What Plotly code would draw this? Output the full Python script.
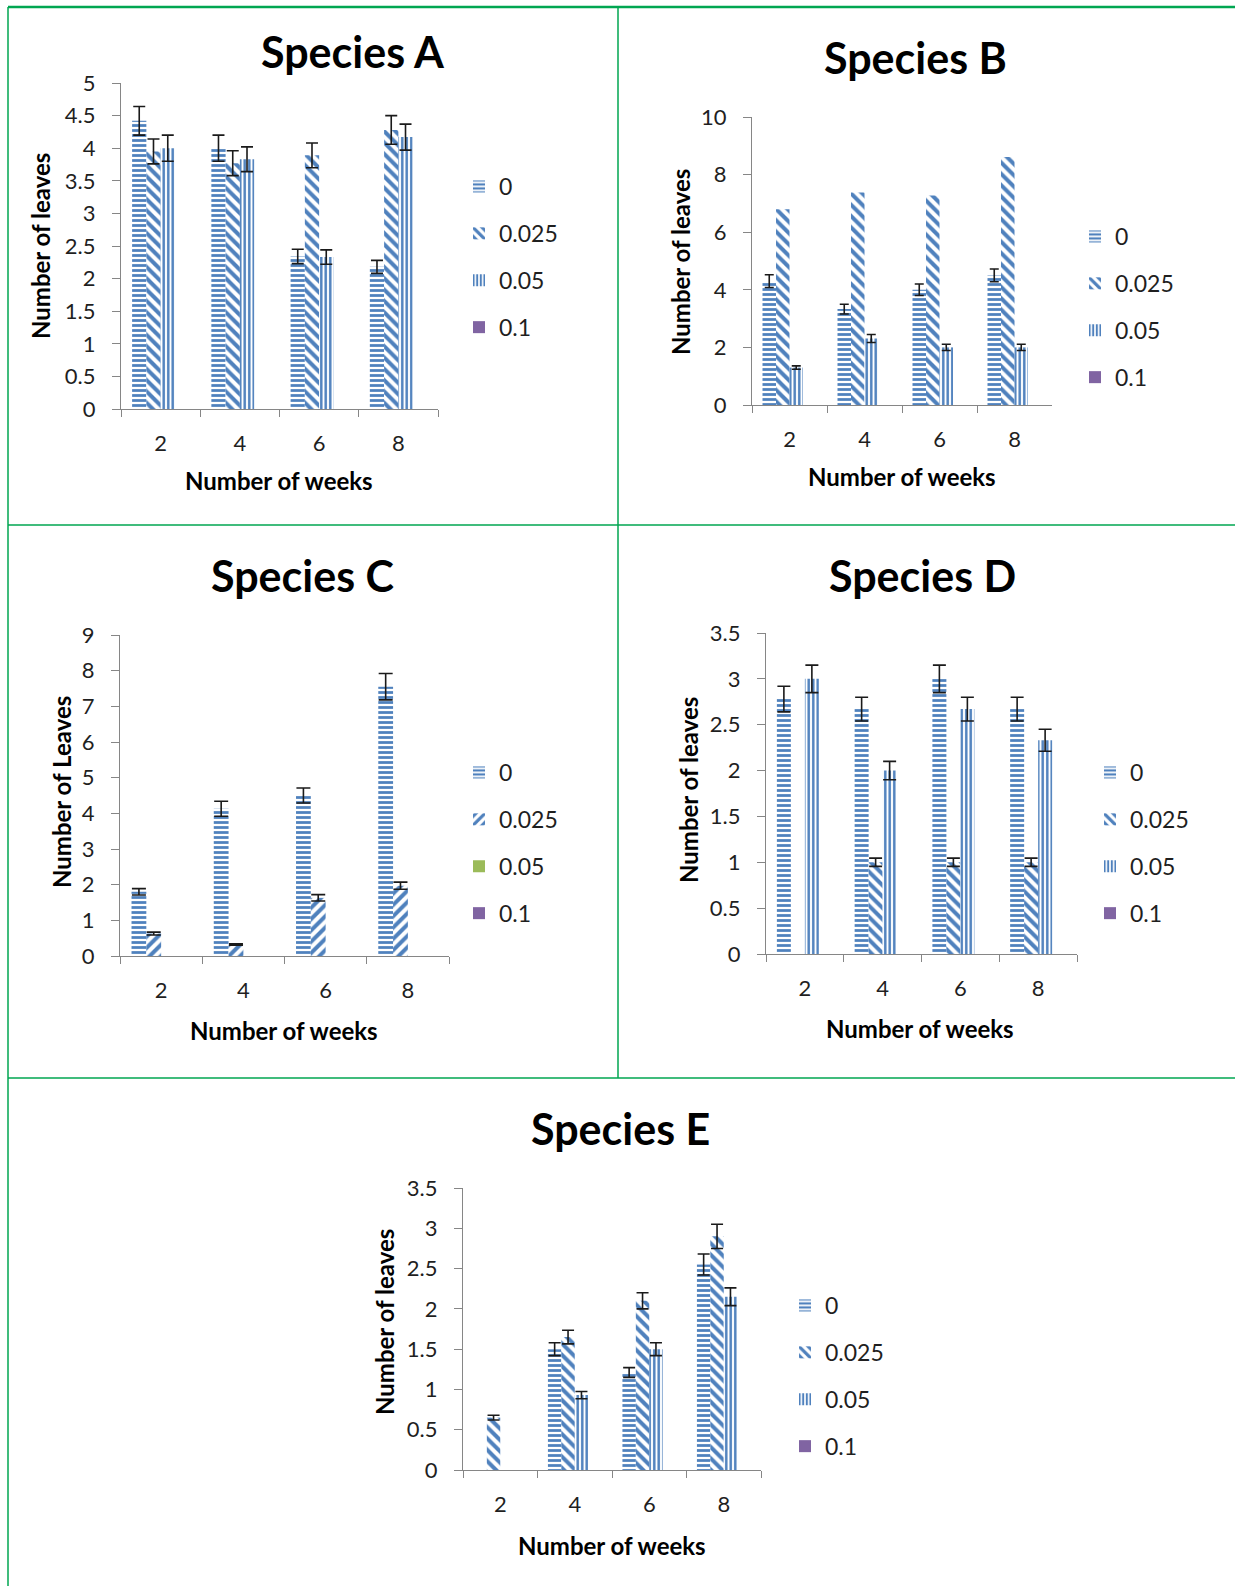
import plotly.graph_objects as go

# ---------------- data ----------------
weeks = ["2", "4", "6", "8"]
conc_labels = ["0", "0.025", "0.05", "0.1"]

# Species A
a_0 = [4.42, 4.00, 2.34, 2.18]
a_0_err = [0.22, 0.20, 0.11, 0.10]
a_025 = [3.95, 3.77, 3.89, 4.28]
a_025_err = [0.19, 0.19, 0.19, 0.22]
a_05 = [4.00, 3.83, 2.33, 4.17]
a_05_err = [0.20, 0.19, 0.11, 0.20]
a_1 = [None, None, None, None]

# Species B
b_0 = [4.30, 3.33, 4.00, 4.50]
b_0_err = [0.22, 0.17, 0.20, 0.22]
b_025 = [6.80, 7.38, 7.27, 8.61]
b_025_err = None
b_05 = [1.30, 2.31, 2.00, 2.00]
b_05_err = [0.06, 0.14, 0.11, 0.11]
b_1 = [None, None, None, None]

# Species C
c_0 = [1.80, 4.13, 4.50, 7.55]
c_0_err = [0.09, 0.21, 0.21, 0.37]
c_025 = [0.63, 0.32, 1.63, 1.97]
c_025_err = [0.04, 0.02, 0.09, 0.10]
c_05 = [None, None, None, None]
c_1 = [None, None, None, None]

# Species D
d_0 = [2.78, 2.67, 3.00, 2.67]
d_0_err = [0.14, 0.13, 0.15, 0.13]
d_025 = [None, 1.00, 1.00, 1.00]
d_025_err = [0.0, 0.045, 0.045, 0.045]
d_05 = [3.00, 2.00, 2.67, 2.33]
d_05_err = [0.15, 0.10, 0.13, 0.12]
d_1 = [None, None, None, None]

# Species E
e_0 = [None, 1.50, 1.21, 2.55]
e_0_err = [0.0, 0.08, 0.06, 0.13]
e_025 = [0.65, 1.65, 2.10, 2.90]
e_025_err = [0.03, 0.085, 0.10, 0.15]
e_05 = [None, 0.93, 1.50, 2.15]
e_05_err = [0.0, 0.045, 0.08, 0.11]
e_1 = [None, None, None, None]

# ---------------- styles ----------------
W, H = 1235, 1586
BLUE = "#4F81BD"
PURPLE = "#8064A2"
GREEN = "#9BBB59"
AXIS = "#868686"
TXT = "#1f1f1f"
FONT = "Lato"

HORIZ = dict(shape="-", size=5, solidity=0.55)
BACK = dict(shape="\\", size=8, solidity=0.5)
FWD = dict(shape="/", size=8, solidity=0.5)
VERT = dict(shape="|", size=4.5, solidity=0.55)


def px(x):
    return x / W


def py(y):
    return 1 - y / H


panels = [
    dict(title="Species A", ytitle="Number of leaves",
         box=(121, 438, 83, 409), yrange=[0, 5], dtick=0.5,
         title_xy=(353, 51), ytitle_xy=(41, 246), xtitle_xy=(279, 480),
         legend_xy=(459, 182), capw=6,
         series=[(a_0, a_0_err, BLUE, HORIZ), (a_025, a_025_err, BLUE, BACK),
                 (a_05, a_05_err, BLUE, VERT), (a_1, None, PURPLE, None)]),
    dict(title="Species B", ytitle="Number of leaves",
         box=(752, 1052, 117, 405), yrange=[0, 10], dtick=2,
         title_xy=(915, 57), ytitle_xy=(680, 262), xtitle_xy=(902, 477),
         legend_xy=(1075, 232), capw=4.5,
         series=[(b_0, b_0_err, BLUE, HORIZ), (b_025, b_025_err, BLUE, BACK),
                 (b_05, b_05_err, BLUE, VERT), (b_1, None, PURPLE, None)]),
    dict(title="Species C", ytitle="Number of Leaves",
         box=(120, 449, 635, 956), yrange=[0, 9], dtick=1,
         title_xy=(302, 575), ytitle_xy=(61, 792), xtitle_xy=(284, 1030),
         legend_xy=(459, 768), capw=7,
         series=[(c_0, c_0_err, BLUE, HORIZ), (c_025, c_025_err, BLUE, FWD),
                 (c_05, None, GREEN, None), (c_1, None, PURPLE, None)]),
    dict(title="Species D", ytitle="Number of leaves",
         box=(766, 1077, 633, 954), yrange=[0, 3.5], dtick=0.5,
         title_xy=(922, 575), ytitle_xy=(688, 790), xtitle_xy=(920, 1028),
         legend_xy=(1090, 768), capw=6.5,
         series=[(d_0, d_0_err, BLUE, HORIZ), (d_025, d_025_err, BLUE, BACK),
                 (d_05, d_05_err, BLUE, VERT), (d_1, None, PURPLE, None)]),
    dict(title="Species E", ytitle="Number of leaves",
         box=(463, 761, 1188, 1470), yrange=[0, 3.5], dtick=0.5,
         title_xy=(621, 1128), ytitle_xy=(384, 1322), xtitle_xy=(612, 1545),
         legend_xy=(785, 1301), capw=6,
         series=[(e_0, e_0_err, BLUE, HORIZ), (e_025, e_025_err, BLUE, BACK),
                 (e_05, e_05_err, BLUE, VERT), (e_1, None, PURPLE, None)]),
]

GROUP = 0.72
SLOT = GROUP / 4

fig = go.Figure()
annotations = []
layout = dict(
    template="none",
    width=W, height=H, margin=dict(l=0, r=0, t=0, b=0, pad=0, autoexpand=False),
    paper_bgcolor="white", plot_bgcolor="white",
    barmode="overlay",
    font=dict(family=FONT, color=TXT),
)

for i, p in enumerate(panels, start=1):
    sfx = "" if i == 1 else str(i)
    xa, ya = "x" + sfx, "y" + sfx
    leg = "legend" + sfx
    for j, (vals, errs, color, pat) in enumerate(p["series"]):
        marker = dict(color=color, line=dict(width=0))
        if pat is not None:
            marker["pattern"] = dict(pat, fgcolor=color, bgcolor="white",
                                     fgopacity=1)
        err = dict(visible=False)
        if errs is not None:
            err = dict(type="data", array=errs, visible=True, color="#1a1a1a",
                       thickness=1.6, width=p["capw"])
        fig.add_trace(go.Bar(
            x=weeks, y=vals, name=conc_labels[j], marker=marker,
            error_y=err, xaxis=xa, yaxis=ya, legend=leg,
            legendgroup=f"p{i}s{j}", showlegend=True,
            width=SLOT, offset=-GROUP / 2 + j * SLOT,
        ))
    x0, x1, y0, y1 = p["box"]
    layout["xaxis" + sfx] = dict(
        domain=[px(x0), px(x1)], anchor=ya, type="category",
        categoryorder="array", categoryarray=weeks, range=[-0.5, 3.5],
        showline=True, linecolor=AXIS, linewidth=1.2, mirror=False,
        ticks="outside", tickson="boundaries", ticklen=7, tickcolor=AXIS,
        tickwidth=1.2, showgrid=False, zeroline=False, automargin=False,
        tickfont=dict(family=FONT, size=22, color=TXT), ticklabelstandoff=14,
        fixedrange=True,
    )
    layout["yaxis" + sfx] = dict(
        domain=[py(y1), py(y0)], anchor=xa, range=p["yrange"], dtick=p["dtick"],
        showline=True, linecolor=AXIS, linewidth=1.2,
        ticks="outside", ticklen=8, tickcolor=AXIS, tickwidth=1.2,
        showgrid=False, zeroline=False, automargin=False,
        tickfont=dict(family=FONT, size=22, color=TXT), ticklabelstandoff=12,
        fixedrange=True,
    )
    lx, ly = p["legend_xy"]
    layout[leg] = dict(
        x=px(lx), y=py(ly - 17), xanchor="left", yanchor="top",
        font=dict(family=FONT, size=23, color=TXT),
        bgcolor="rgba(0,0,0,0)", borderwidth=0,
        traceorder="grouped", tracegroupgap=14,
    )
    tx, ty = p["title_xy"]
    annotations.append(dict(
        text="<b>" + p["title"] + "</b>", x=px(tx), y=py(ty), xref="paper",
        yref="paper", xanchor="center", yanchor="middle", showarrow=False,
        font=dict(family=FONT, size=43, color="black")))
    yx, yy = p["ytitle_xy"]
    annotations.append(dict(
        text="<b>" + p["ytitle"] + "</b>", x=px(yx), y=py(yy), xref="paper",
        yref="paper", xanchor="center", yanchor="middle", showarrow=False,
        textangle=-90, font=dict(family=FONT, size=24, color="black")))
    xx, xy = p["xtitle_xy"]
    annotations.append(dict(
        text="<b>Number of weeks</b>", x=px(xx), y=py(xy), xref="paper",
        yref="paper", xanchor="center", yanchor="middle", showarrow=False,
        font=dict(family=FONT, size=24, color="black")))

GREEN_LINE = "#00A651"
shapes = [
    dict(type="line", x0=px(8), x1=1, y0=py(7), y1=py(7), xref="paper", yref="paper",
         line=dict(color=GREEN_LINE, width=2.5)),
    dict(type="line", x0=px(8), x1=px(8), y0=py(7), y1=0, xref="paper", yref="paper",
         line=dict(color=GREEN_LINE, width=1.5)),
    dict(type="line", x0=px(618), x1=px(618), y0=py(7), y1=py(1078), xref="paper",
         yref="paper", line=dict(color=GREEN_LINE, width=1.5)),
    dict(type="line", x0=px(8), x1=1, y0=py(525), y1=py(525), xref="paper", yref="paper",
         line=dict(color=GREEN_LINE, width=1.5)),
    dict(type="line", x0=px(8), x1=1, y0=py(1078), y1=py(1078), xref="paper", yref="paper",
         line=dict(color=GREEN_LINE, width=1.5)),
]

layout["annotations"] = annotations
layout["shapes"] = shapes
fig.update_layout(**layout)

fig.write_html(
    "out.html",
    config={"displayModeBar": False},
    post_script="document.body.style.margin='0';document.body.style.overflow='hidden';",
)
